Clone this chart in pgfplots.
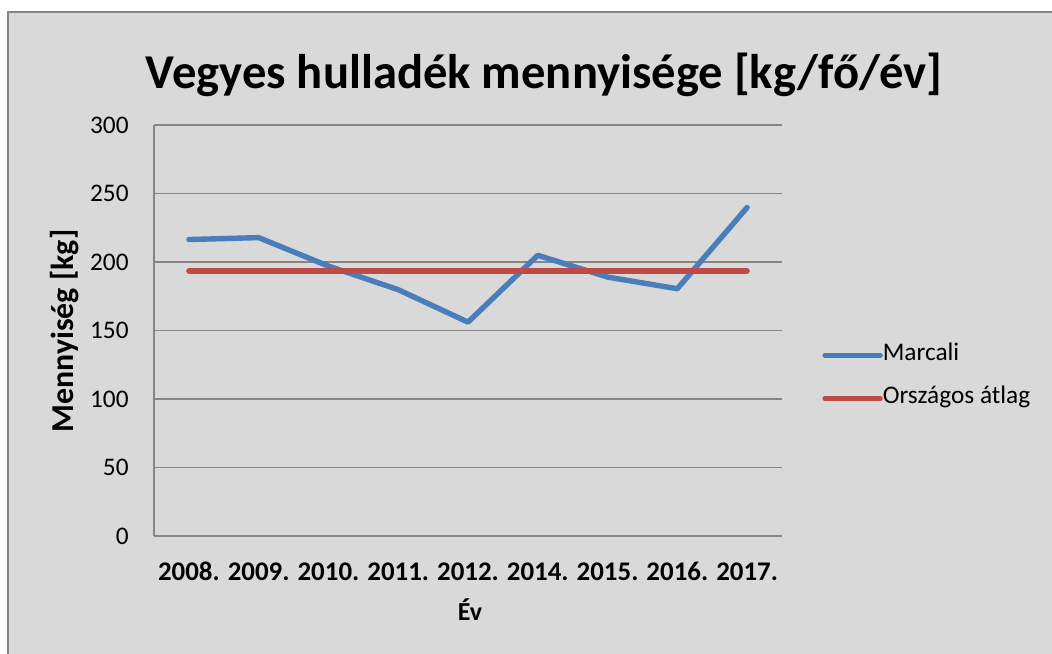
\documentclass[border=0pt]{standalone}
\usepackage{fontspec}
\setmainfont{Carlito}
\usepackage{pgfplots}
\pgfplotsset{compat=1.18}
\definecolor{bg}{HTML}{D9D9D9}
\definecolor{gridc}{HTML}{868686}
\definecolor{mblue}{HTML}{4A7EBB}
\definecolor{mred}{HTML}{BE4B48}
\begin{document}
\begin{tikzpicture}[x=1bp,y=1bp]
\useasboundingbox (0,0) rectangle (526,326.5);
\fill[white] (0,0) rectangle (526,326.5);
\filldraw[fill=bg, draw=gridc, line width=1bp] (4,-5) rectangle (535,320.5);
\node[font=\fontsize{24.4}{29}\selectfont\bfseries, anchor=base, inner sep=0pt] at (272,282.5) {Vegyes hulladék mennyisége [kg/fő/év]};
\begin{axis}[
  at={(77bp,58.5bp)}, anchor=south west,
  scale only axis, width=314bp, height=205.5bp,
  xmin=-0.5, xmax=8.5, ymin=0, ymax=300,
  ytick={0,50,...,300},
  xtick={0,...,8},
  xticklabels={2008.,2009.,2010.,2011.,2012.,2014.,2015.,2016.,2017.},
  /pgf/number format/assume math mode=true,
  ymajorgrids,
  grid style={gridc, line width=0.9bp},
  axis lines*=left,
  axis line style={gridc, line width=0.9bp},
  major tick length=0pt,
  yticklabel style={anchor=east, xshift=-12.5bp, inner sep=0pt, font=\fontsize{12.7}{15}\selectfont},
  xticklabel style={anchor=base, yshift=-22bp, inner sep=0pt, font=\fontsize{13.5}{16}\selectfont\bfseries},
  ylabel={Mennyiség [kg]},
  ylabel style={at={(rel axis cs:-0.1274,0.4988)}, anchor=base, inner sep=0pt, font=\fontsize{16}{19}\selectfont\bfseries},
  xlabel={Év},
  xlabel style={at={(rel axis cs:0.503,-0.2044)}, anchor=base, inner sep=0pt, font=\fontsize{13}{16}\selectfont\bfseries},
  legend style={at={(rel axis cs:1.0637,0.3869)}, anchor=west, draw=none, fill=none, inner sep=0pt,
    nodes={inner sep=0pt, text depth=0.2em, text height=0.7em}, column sep=0bp, row sep=12.6bp,
    font=\fontsize{12.7}{15}\selectfont},
  legend cell align=left,
  legend image code/.code={\draw[#1] (0bp,0bp) -- (27.5bp,0bp);},
  clip=false,
]
\addplot[mblue, line width=2.7bp, line cap=round, line join=round] coordinates {(0,216.4)(1,217.8)(2,197)(3,179.8)(4,156.1)(5,204.9)(6,189)(7,180.5)(8,239.8)};
\addlegendentry{Marcali}
\addplot[mred, line width=2.7bp, line cap=round, line join=round] coordinates {(0,193.4)(1,193.4)(2,193.4)(3,193.4)(4,193.4)(5,193.4)(6,193.4)(7,193.4)(8,193.4)};
\addlegendentry{Országos átlag}
\end{axis}
\end{tikzpicture}
\end{document}
